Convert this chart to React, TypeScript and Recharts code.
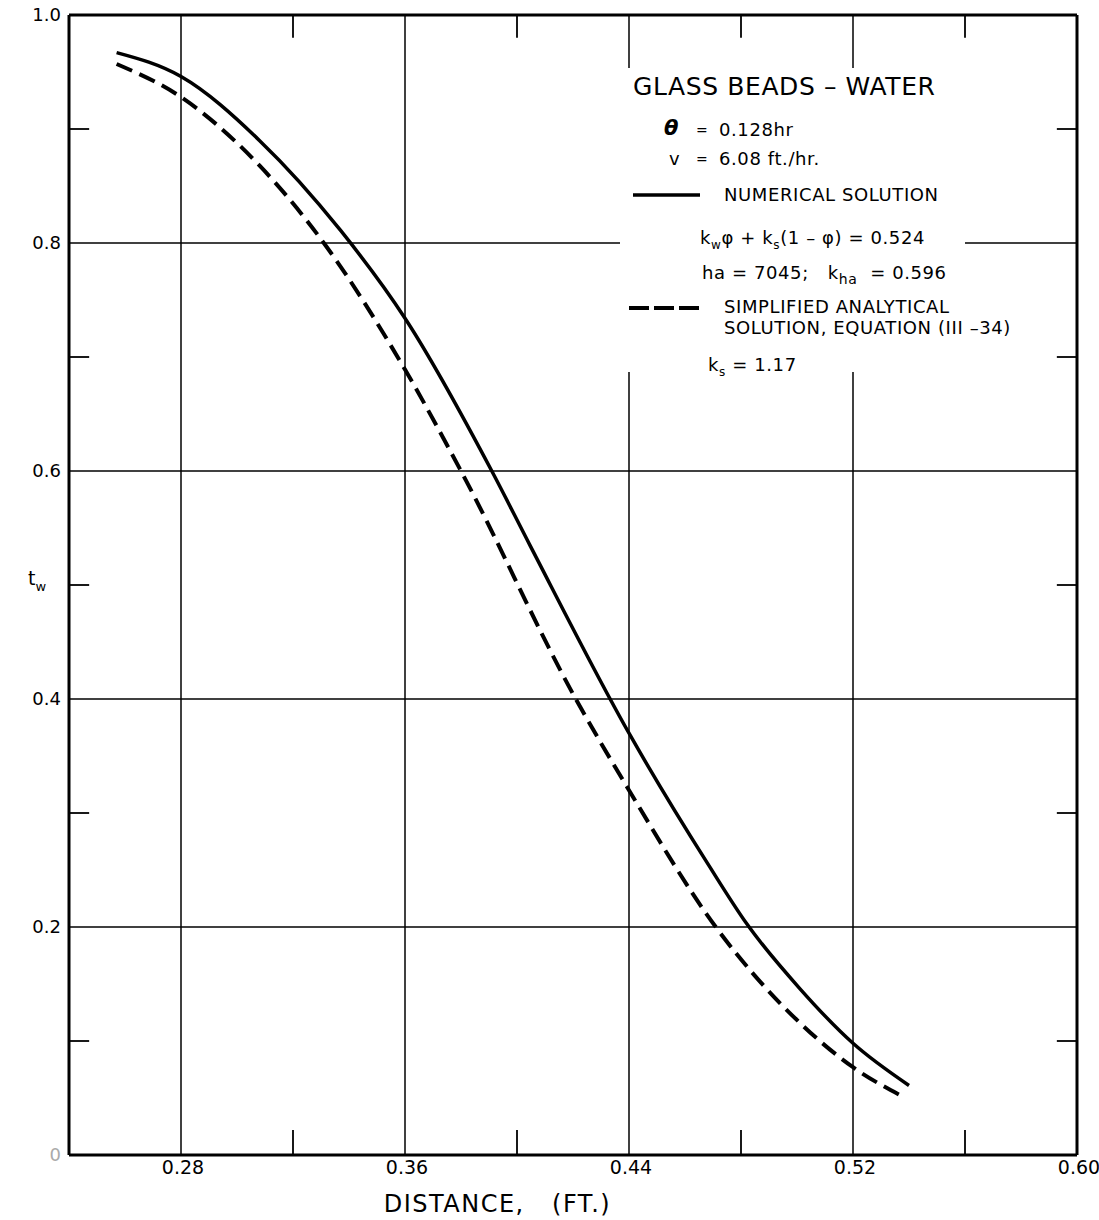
import { LineChart, Line, XAxis, YAxis, ReferenceLine, Legend } from 'recharts'

// distance (ft) and dimensionless temperature
const numericalX = [0.257, 0.28, 0.308, 0.337, 0.36, 0.391, 0.4046, 0.44, 0.468, 0.482, 0.501, 0.52, 0.54]
const numericalT = [0.967, 0.946, 0.89, 0.811, 0.734, 0.6, 0.535, 0.37, 0.256, 0.203, 0.146, 0.098, 0.061]

const analyticalX = [0.257, 0.28, 0.308, 0.331, 0.36, 0.38, 0.421, 0.44, 0.471, 0.501, 0.52, 0.538]
const analyticalT = [0.957, 0.928, 0.868, 0.8, 0.689, 0.6, 0.4, 0.32, 0.2, 0.116, 0.077, 0.051]

const xTicks = [0.28, 0.36, 0.44, 0.52, 0.6]
const xMinor = [0.32, 0.4, 0.48, 0.56]
const yTicks = [0, 0.2, 0.4, 0.6, 0.8, 1.0]
const yGrid = [0.2, 0.4, 0.6, 0.8]
const yMinor = [0.1, 0.3, 0.5, 0.7, 0.9]

const numerical = numericalX.map((x, i) => ({ x, t: numericalT[i] }))
const analytical = analyticalX.map((x, i) => ({ x, t: analyticalT[i] }))

const FONT = '"DejaVu Sans", "Liberation Sans", sans-serif'

function Row({ left, cy, size = 18, children }: { left: number; cy: number; size?: number; children: any }) {
    return (
        <div
            style={{
                position: 'absolute',
                left,
                top: cy - size * 0.6,
                fontSize: size,
                lineHeight: `${size * 1.2}px`,
                whiteSpace: 'nowrap',
                letterSpacing: 0.6,
            }}
        >
            {children}
        </div>
    )
}

function LegendBlock() {
    return (
        <div style={{ position: 'relative', width: 345, height: 304, background: '#fff', fontFamily: FONT, color: '#000' }}>
            <Row left={13} cy={19} size={25}>GLASS BEADS – WATER</Row>
            <Row left={44} cy={61} size={21}><i><b>θ</b></i></Row>
            <Row left={76} cy={62} size={14}>=</Row>
            <Row left={99} cy={62}>0.128hr</Row>
            <Row left={49} cy={91}>v</Row>
            <Row left={76} cy={91} size={14}>=</Row>
            <Row left={99} cy={91}>6.08 ft./hr.</Row>
            <svg style={{ position: 'absolute', left: 13, top: 122 }} width={70} height={10}>
                <line x1={0} y1={5} x2={67} y2={5} stroke="#000" strokeWidth={3.5} />
            </svg>
            <Row left={104} cy={127}>NUMERICAL SOLUTION</Row>
            <Row left={80} cy={170}>
                k<sub style={{ fontSize: 12 }}>w</sub>φ + k<sub style={{ fontSize: 12 }}>s</sub>(1 – φ) = 0.524
            </Row>
            <Row left={82} cy={205}>
                ha = 7045;&nbsp;&nbsp;&nbsp;k<sub style={{ fontSize: 14 }}>ha</sub>&nbsp;&nbsp;= 0.596
            </Row>
            <svg style={{ position: 'absolute', left: 9, top: 235 }} width={75} height={10}>
                <line x1={0} y1={5} x2={71} y2={5} stroke="#000" strokeWidth={4} strokeDasharray="20 5" />
            </svg>
            <Row left={104} cy={239}>SIMPLIFIED ANALYTICAL</Row>
            <Row left={104} cy={260}>SOLUTION, EQUATION (III –34)</Row>
            <Row left={88} cy={297}>
                k<sub style={{ fontSize: 12 }}>s</sub> = 1.17
            </Row>
        </div>
    )
}

export default function App() {
    return (
        <div style={{ position: 'absolute', left: 0, top: 0, background: '#fff' }}>
            <LineChart
                width={1099}
                height={1220}
                margin={{ top: 15, right: 22, left: 0, bottom: 0 }}
                style={{ fontFamily: FONT }}
            >
                <XAxis
                    dataKey="x"
                    type="number"
                    domain={[0.24, 0.6]}
                    allowDataOverflow
                    ticks={xTicks}
                    height={65}
                    tickSize={0}
                    tick={({ x, y, payload }: any) => (
                        <text x={x + 2} y={y + 17} textAnchor="middle" fontSize={19} fill="#000">
                            {payload.value.toFixed(2)}
                        </text>
                    )}
                    axisLine={{ stroke: '#000', strokeWidth: 3 }}
                    label={({ viewBox }: any) => (
                        <text
                            x={viewBox.x + viewBox.width * 0.425}
                            y={viewBox.y + 57}
                            textAnchor="middle"
                            fontSize={24}
                            letterSpacing={1.5}
                            fill="#000"
                        >
                            DISTANCE,&#160;&#160;&#160;(FT.)
                        </text>
                    )}
                />
                <YAxis
                    type="number"
                    domain={[0, 1]}
                    allowDataOverflow
                    ticks={yTicks}
                    width={69}
                    tickSize={0}
                    tick={({ x, y, payload }: any) => (
                        <text x={x - 6} y={y} dy={6} textAnchor="end" fontSize={18} fill={payload.value === 0 ? '#aaa' : '#000'}>
                            {payload.value === 0 ? '0' : payload.value.toFixed(1)}
                        </text>
                    )}
                    axisLine={{ stroke: '#000', strokeWidth: 3 }}
                    label={({ viewBox }: any) => (
                        <text x={28} y={viewBox.y + viewBox.height * 0.5} fontSize={19} fill="#000">
                            t<tspan fontSize={13} dy={6}>w</tspan>
                        </text>
                    )}
                />

                {/* frame: top and right edges */}
                <ReferenceLine y={1} stroke="#000" strokeWidth={3} />
                <ReferenceLine x={0.6} stroke="#000" strokeWidth={3} />

                {xTicks.filter((v) => v < 0.6).map((v) => (
                    <ReferenceLine key={`gx${v}`} x={v} stroke="#000" strokeWidth={1.5} />
                ))}
                {yGrid.map((v) => (
                    <ReferenceLine key={`gy${v}`} y={v} stroke="#000" strokeWidth={1.5} />
                ))}

                {/* short inner ticks between gridlines */}
                {xMinor.map((v) => (
                    <ReferenceLine key={`bx${v}`} segment={[{ x: v, y: 0 }, { x: v, y: 0.022 }]} stroke="#000" strokeWidth={1.8} />
                ))}
                {xMinor.map((v) => (
                    <ReferenceLine key={`tx${v}`} segment={[{ x: v, y: 1 }, { x: v, y: 0.98 }]} stroke="#000" strokeWidth={1.8} />
                ))}
                {yMinor.map((v) => (
                    <ReferenceLine key={`ly${v}`} segment={[{ x: 0.24, y: v }, { x: 0.2472, y: v }]} stroke="#000" strokeWidth={1.8} />
                ))}
                {yMinor.map((v) => (
                    <ReferenceLine key={`ry${v}`} segment={[{ x: 0.6, y: v }, { x: 0.5928, y: v }]} stroke="#000" strokeWidth={1.8} />
                ))}

                <Line
                    data={numerical}
                    dataKey="t"
                    type="monotone"
                    stroke="#000"
                    strokeWidth={3.5}
                    dot={false}
                    isAnimationActive={false}
                    name="NUMERICAL SOLUTION"
                />
                <Line
                    data={analytical}
                    dataKey="t"
                    type="monotone"
                    stroke="#000"
                    strokeWidth={4}
                    strokeDasharray="17 8"
                    dot={false}
                    isAnimationActive={false}
                    name="SIMPLIFIED ANALYTICAL SOLUTION"
                />

                <Legend
                    layout="horizontal"
                    verticalAlign="middle"
                    content={() => <LegendBlock />}
                    wrapperStyle={{ position: 'absolute', left: 620, top: 68, width: 345, height: 304 }}
                />
            </LineChart>
        </div>
    )
}
